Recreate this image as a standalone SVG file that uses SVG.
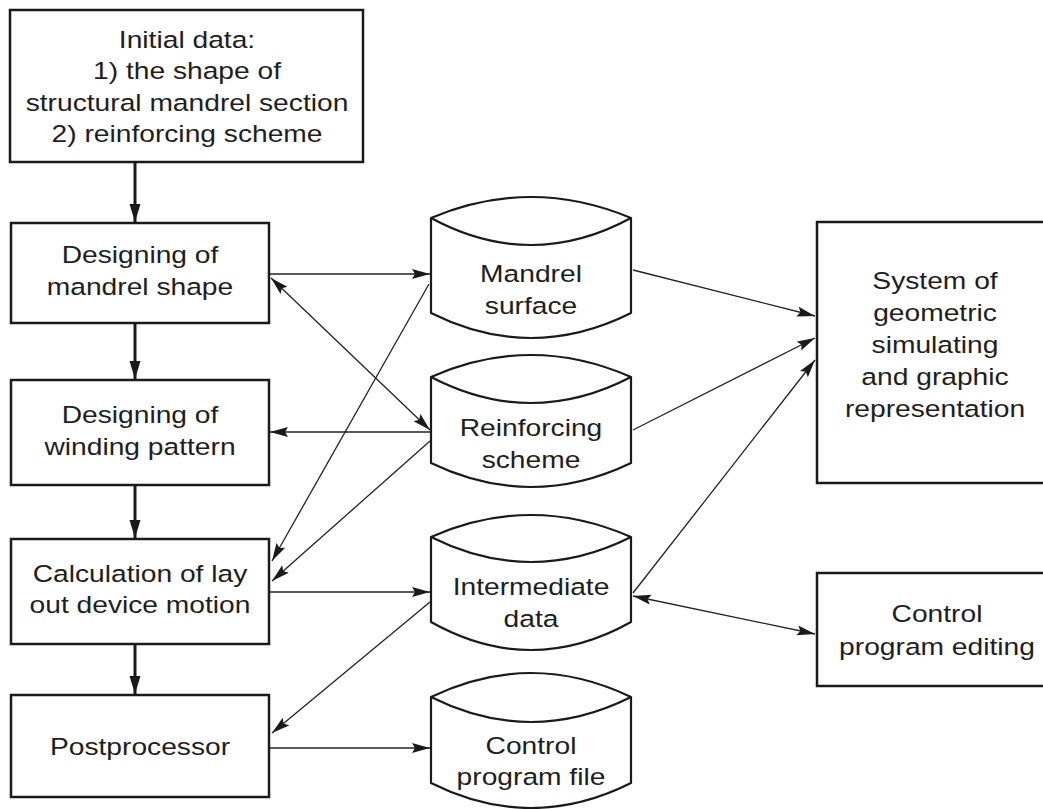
<svg xmlns="http://www.w3.org/2000/svg" width="1043" height="809" viewBox="0 0 1043 809">
<style>
.box{fill:#fff;stroke:#1a1a1a;stroke-width:2.5}
.cyl{fill:#fff;stroke:#1a1a1a;stroke-width:2.2;stroke-linejoin:round}
.arc{fill:none;stroke:#1a1a1a;stroke-width:2.2}
.lbl{font-family:"Liberation Sans",Arial,Helvetica,sans-serif;font-size:23.5px;fill:#1e1e1e;text-anchor:middle}
.con{fill:none;stroke:#222;stroke-width:1.3}
.flow{fill:none;stroke:#1a1a1a;stroke-width:3}
</style>
<defs>
<marker id="ah" markerUnits="userSpaceOnUse" markerWidth="19" markerHeight="11" refX="18" refY="5" orient="auto-start-reverse" viewBox="0 0 19 11">
<path d="M0,0 L18,5 L0,10 L3,5 z" fill="#1a1a1a"/>
</marker>
<marker id="ahb" markerUnits="userSpaceOnUse" markerWidth="19" markerHeight="12" refX="18" refY="5.5" orient="auto" viewBox="0 0 19 12">
<path d="M0,0 L18,5.5 L0,11 z" fill="#1a1a1a"/>
</marker>
</defs>
<rect width="1043" height="809" fill="#fff"/>

<g id="connectors">
<line class="flow" x1="135" y1="163" x2="135" y2="222" marker-end="url(#ahb)"/>
<line class="flow" x1="135" y1="324" x2="135" y2="379" marker-end="url(#ahb)"/>
<line class="flow" x1="135" y1="486" x2="135" y2="538" marker-end="url(#ahb)"/>
<line class="flow" x1="135" y1="645" x2="135" y2="694" marker-end="url(#ahb)"/>
<line class="con" x1="270" y1="274" x2="430" y2="274" marker-end="url(#ah)"/>
<line class="con" x1="271" y1="278" x2="430" y2="430" marker-start="url(#ah)" marker-end="url(#ah)"/>
<line class="con" x1="430" y1="432" x2="270" y2="432" marker-end="url(#ah)"/>
<line class="con" x1="429" y1="284" x2="272" y2="561" marker-end="url(#ah)"/>
<line class="con" x1="430" y1="441" x2="272" y2="581" marker-end="url(#ah)"/>
<line class="con" x1="270" y1="592" x2="430" y2="592" marker-end="url(#ah)"/>
<line class="con" x1="430" y1="602" x2="272" y2="733" marker-end="url(#ah)"/>
<line class="con" x1="270" y1="748" x2="430" y2="748" marker-end="url(#ah)"/>
<line class="con" x1="633" y1="270" x2="815" y2="316" marker-end="url(#ah)"/>
<line class="con" x1="633" y1="430" x2="815" y2="338" marker-end="url(#ah)"/>
<line class="con" x1="633" y1="593" x2="815" y2="360" marker-end="url(#ah)"/>
<line class="con" x1="633" y1="596" x2="815" y2="634" marker-start="url(#ah)" marker-end="url(#ah)"/>
</g>

<g id="initial-data">
<rect class="box" x="10" y="10" width="353" height="152"/>
<text class="lbl" transform="translate(187,0) scale(1.2,1)"><tspan x="0" y="48">Initial data:</tspan><tspan x="0" y="79.5">1) the shape of</tspan><tspan x="0" y="111">structural mandrel section</tspan><tspan x="0" y="142">2) reinforcing scheme</tspan></text>
</g>

<g id="designing-mandrel-shape">
<rect class="box" x="11" y="223" width="258" height="100"/>
<text class="lbl" transform="translate(140,0) scale(1.2,1)"><tspan x="0" y="263">Designing of</tspan><tspan x="0" y="295">mandrel shape</tspan></text>
</g>

<g id="designing-winding-pattern">
<rect class="box" x="11" y="380" width="258" height="105"/>
<text class="lbl" transform="translate(140,0) scale(1.2,1)"><tspan x="0" y="423">Designing of</tspan><tspan x="0" y="455">winding pattern</tspan></text>
</g>

<g id="calculation">
<rect class="box" x="11" y="539" width="258" height="105"/>
<text class="lbl" transform="translate(140,0) scale(1.2,1)"><tspan x="0" y="582">Calculation of lay</tspan><tspan x="0" y="613">out device motion</tspan></text>
</g>

<g id="postprocessor">
<rect class="box" x="11" y="695" width="258" height="102"/>
<text class="lbl" transform="translate(140,0) scale(1.2,1)"><tspan x="0" y="755">Postprocessor</tspan></text>
</g>

<g id="mandrel-surface">
<path class="cyl" d="M431,218 Q531,176 631,218 L631,313 Q531,363 431,313 Z"/>
<path class="arc" d="M431,218 Q531,272 631,218"/>
<text class="lbl" transform="translate(531,0) scale(1.2,1)"><tspan x="0" y="282">Mandrel</tspan><tspan x="0" y="314">surface</tspan></text>
</g>

<g id="reinforcing-scheme">
<path class="cyl" d="M431,377 Q531,333 631,377 L631,463 Q531,511 431,463 Z"/>
<path class="arc" d="M431,377 Q531,429 631,377"/>
<text class="lbl" transform="translate(531,0) scale(1.2,1)"><tspan x="0" y="436">Reinforcing</tspan><tspan x="0" y="468">scheme</tspan></text>
</g>

<g id="intermediate-data">
<path class="cyl" d="M431,537 Q531,493 631,537 L631,622 Q531,678 431,622 Z"/>
<path class="arc" d="M431,537 Q531,587 631,537"/>
<text class="lbl" transform="translate(531,0) scale(1.2,1)"><tspan x="0" y="595">Intermediate</tspan><tspan x="0" y="627">data</tspan></text>
</g>

<g id="control-program-file">
<path class="cyl" d="M431,697 Q531,649 631,697 L631,783 Q531,833 431,783 Z"/>
<path class="arc" d="M431,697 Q531,747 631,697"/>
<text class="lbl" transform="translate(531,0) scale(1.2,1)"><tspan x="0" y="754">Control</tspan><tspan x="0" y="785">program file</tspan></text>
</g>

<g id="geometric-system">
<rect class="box" x="817" y="222" width="240" height="261"/>
<text class="lbl" transform="translate(935,0) scale(1.2,1)"><tspan x="0" y="289">System of</tspan><tspan x="0" y="321">geometric</tspan><tspan x="0" y="353">simulating</tspan><tspan x="0" y="385">and graphic</tspan><tspan x="0" y="417">representation</tspan></text>
</g>

<g id="control-program-editing">
<rect class="box" x="817" y="573" width="240" height="113"/>
<text class="lbl" transform="translate(937,0) scale(1.2,1)"><tspan x="0" y="622">Control</tspan><tspan x="0" y="655">program editing</tspan></text>
</g>
</svg>
